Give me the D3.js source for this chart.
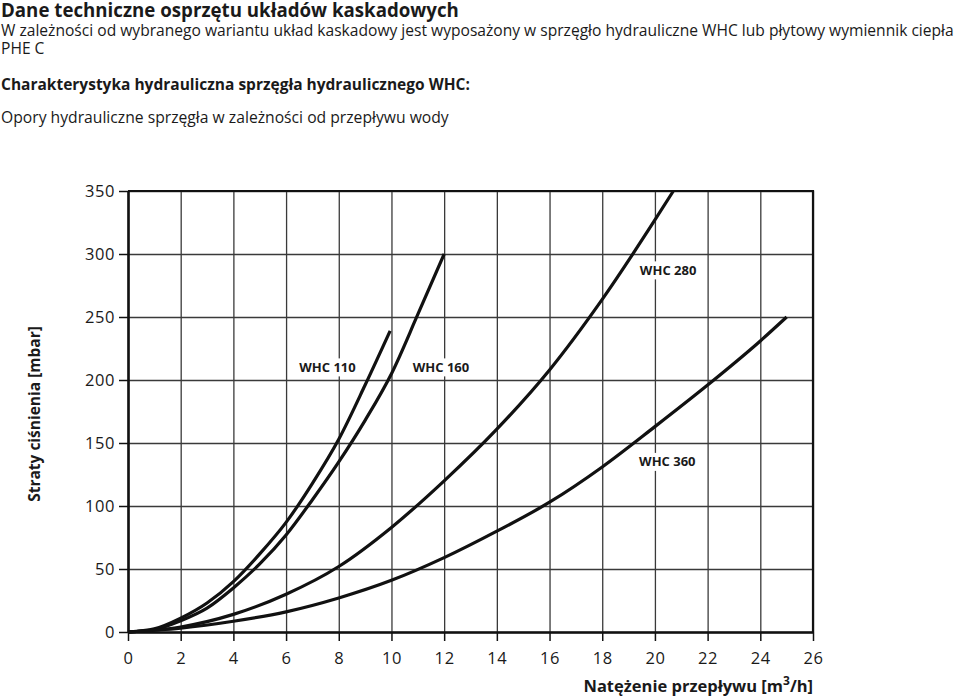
<!DOCTYPE html>
<html>
<head>
<meta charset="utf-8">
<script src="https://cdn.jsdelivr.net/npm/d3@7"></script>
<style>
  body { margin: 0; background: #fff; }
  text { font-family: "Open Sans", "DejaVu Sans", sans-serif; fill: #1a1a1a; }
</style>
</head>
<body>
<div class="chart"></div>
<script>
// flow [m3/h] vs pressure loss [mbar]
const whc110 = [[0, 0], [1, 2.5], [2, 11], [3, 23], [4, 40], [5, 62], [6, 87], [7, 118], [8, 153], [9, 196], [9.95, 239]];
const whc160 = [[0, 0], [1, 2], [2, 9], [3, 19], [4, 35], [5, 54], [6, 77], [7, 105], [8, 135], [9, 168], [10, 205], [11, 252], [12, 300]];
const whc280 = [[0, 0], [2, 4], [4, 14], [6, 30], [8, 52], [10, 83], [12, 120], [14, 161], [16, 208], [18, 264], [20, 327], [20.7, 350]];
const whc360 = [[0, 0], [2, 3], [4, 8.5], [6, 16], [8, 27], [10, 41], [12, 59], [14, 80], [16, 103], [18, 131], [20, 163], [22, 196], [24, 231], [25, 250]];

const xTicks = d3.range(0, 27, 2);
const yTicks = d3.range(0, 351, 50);

// label anchors in data units
const labels = [
  { name: 'WHC 110', x: 7.57, y: 210 },
  { name: 'WHC 160', x: 11.88, y: 210 },
  { name: 'WHC 280', x: 20.5, y: 287 },
  { name: 'WHC 360', x: 20.47, y: 135 },
];

const width = 960, height = 696;

const svg = d3.select('.chart').append('svg')
  .attr('width', width)
  .attr('height', height);

// header texts
const head = svg.append('g');
head.append('text').attr('x', 1).attr('y', 17)
  .style('font-size', '18.7px').style('font-weight', 700)
  .text('Dane techniczne osprzętu układów kaskadowych');
head.append('text').attr('x', 1).attr('y', 35.5)
  .style('font-size', '15.6px')
  .text('W zależności od wybranego wariantu układ kaskadowy jest wyposażony w sprzęgło hydrauliczne WHC lub płytowy wymiennik ciepła');
head.append('text').attr('x', 1).attr('y', 53.5)
  .style('font-size', '15.6px')
  .text('PHE C');
head.append('text').attr('x', 1).attr('y', 90)
  .style('font-size', '15.5px').style('font-weight', 700)
  .text('Charakterystyka hydrauliczna sprzęgła hydraulicznego WHC:');
head.append('text').attr('x', 1).attr('y', 123)
  .style('font-size', '15.7px')
  .text('Opory hydrauliczne sprzęgła w zależności od przepływu wody');

const x = d3.scaleLinear().domain([0, 26]).range([128, 813]);
const y = d3.scaleLinear().domain([0, 350]).range([632, 191]);

// grid
svg.append('g')
  .attr('transform', `translate(0,${y(0)})`)
  .call(d3.axisBottom(x).tickValues(xTicks).tickSize(-(y(0) - y(350))).tickFormat(''))
  .call(g => g.select('.domain').remove())
  .call(g => g.selectAll('line').attr('stroke', '#3a3a3a').attr('stroke-width', 1.3));

svg.append('g')
  .attr('transform', `translate(${x(0)},0)`)
  .call(d3.axisLeft(y).tickValues(yTicks).tickSize(-(x(26) - x(0))).tickFormat(''))
  .call(g => g.select('.domain').remove())
  .call(g => g.selectAll('line').attr('stroke', '#3a3a3a').attr('stroke-width', 1.3));

// frame top + right
svg.append('path')
  .attr('d', `M${x(0)},${y(350)}H${x(26)}V${y(0)}`)
  .attr('fill', 'none').attr('stroke', '#111').attr('stroke-width', 2.2);

// axes
const xAxis = svg.append('g')
  .attr('transform', `translate(0,${y(0)})`)
  .call(d3.axisBottom(x).tickValues(xTicks).tickSize(9).tickPadding(11).tickSizeOuter(0));
const yAxis = svg.append('g')
  .attr('transform', `translate(${x(0)},0)`)
  .call(d3.axisLeft(y).tickValues(yTicks).tickSize(9).tickPadding(4).tickSizeOuter(0));

[xAxis, yAxis].forEach(g => {
  g.select('.domain').attr('stroke', '#111').attr('stroke-width', 2.6);
  g.selectAll('.tick line').attr('stroke', '#111').attr('stroke-width', 1.5);
  g.selectAll('.tick text')
    .style('font-family', '"Open Sans", sans-serif')
    .style('font-size', '16.5px')
    .style('letter-spacing', '0.6px')
    .attr('fill', '#222');
});

// axis titles
const xt = svg.append('text')
  .attr('x', 813).attr('y', 692)
  .attr('text-anchor', 'end')
  .style('font-size', '16.5px').style('font-weight', 700);
xt.append('tspan').text('Natężenie przepływu [m');
xt.append('tspan').attr('dy', -7).style('font-size', '12px').text('3');
xt.append('tspan').attr('dy', 7).text('/h]');

svg.append('text')
  .attr('transform', 'translate(40,414) rotate(-90)')
  .attr('text-anchor', 'middle')
  .style('font-size', '15.5px').style('font-weight', 700)
  .text('Straty ciśnienia [mbar]');

// curves
const line = d3.line()
  .x(d => x(d[0]))
  .y(d => y(d[1]))
  .curve(d3.curveMonotoneX);

svg.append('g').selectAll('path')
  .data([whc110, whc160, whc280, whc360])
  .enter()
  .append('path')
  .attr('d', line)
  .attr('fill', 'none')
  .attr('stroke', '#111')
  .attr('stroke-width', 3.2);

// curve labels with white backing
const lab = svg.append('g').selectAll('g')
  .data(labels)
  .enter()
  .append('g')
  .attr('transform', d => `translate(${x(d.x)},${y(d.y)})`);

lab.append('rect')
  .attr('x', -34).attr('y', -9)
  .attr('width', 68).attr('height', 18)
  .attr('fill', '#fff');

lab.append('text')
  .attr('text-anchor', 'middle')
  .attr('dy', '0.35em')
  .style('font-size', '13px').style('font-weight', 700)
  .text(d => d.name);
</script>
</body>
</html>
